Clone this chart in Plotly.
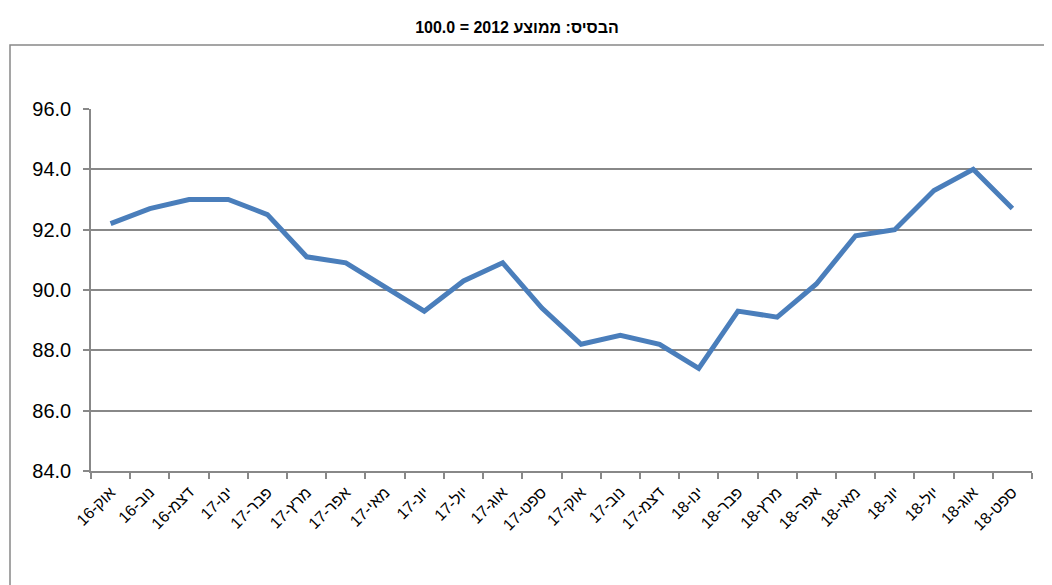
import plotly.graph_objects as go

months = ["אוק-16", "נוב-16", "דצמ-16", "ינו-17", "פבר-17", "מרץ-17", "אפר-17", "מאי-17",
          "יונ-17", "יול-17", "אוג-17", "ספט-17", "אוק-17", "נוב-17", "דצמ-17", "ינו-18",
          "פבר-18", "מרץ-18", "אפר-18", "מאי-18", "יונ-18", "יול-18", "אוג-18", "ספט-18"]
values = [92.2, 92.7, 93.0, 93.0, 92.5, 91.1, 90.9, 90.1,
          89.3, 90.3, 90.9, 89.4, 88.2, 88.5, 88.2, 87.4,
          89.3, 89.1, 90.2, 91.8, 92.0, 93.3, 94.0, 92.7]
y_ticks = [84, 86, 88, 90, 92, 94, 96]
title_text = "הבסיס: ממוצע 2012 = 100.0"

# page body has an 8px offset; compensate so the picture lines up
OFF = 8
L, T, PW, PH = 91 - OFF, 109 - OFF, 941, 362

fig = go.Figure()
fig.add_trace(go.Scatter(
    x=months, y=values, mode="lines",
    line=dict(color="#4A7EBB", width=5),
    hoverinfo="x+y",
))

fig.update_layout(
    width=1052, height=585,
    margin=dict(l=L, r=1052 - L - PW, t=T, b=585 - T - PH, autoexpand=False),
    paper_bgcolor="white", plot_bgcolor="white",
    showlegend=False,
    font=dict(family="Liberation Sans, Arial, sans-serif", color="black"),
    title=dict(text="<b>" + title_text + "</b>", x=(517 - OFF) / 1052, xref="container",
               xanchor="center",
               y=1 - (27 - OFF) / 585, yanchor="middle", font=dict(size=16, color="black")),
    xaxis=dict(
        type="category", range=[-0.5, len(months) - 0.5],
        showgrid=False, showline=True, linecolor="#888888", linewidth=1.5,
        ticks="outside", tickson="boundaries", ticklen=6, tickcolor="#888888", tickwidth=1.5,
        tickangle=-45, tickfont=dict(size=16), ticklabelstandoff=4,
        fixedrange=True, automargin=False,
    ),
    yaxis=dict(
        range=[84, 96], tickvals=y_ticks, tickformat=".1f",
        showgrid=True, gridcolor="#888888", gridwidth=1.5,
        showline=True, linecolor="#888888", linewidth=1.5,
        ticks="outside", ticklen=6, tickcolor="#888888", tickwidth=1.5,
        tickfont=dict(size=20), ticklabelstandoff=8, zeroline=False, fixedrange=True,
        automargin=False,
    ),
    shapes=[dict(type="rect", xref="paper", yref="paper",
                 x0=(10 - 91) / PW, x1=(1080 - 91) / PW,
                 y0=-(620 - 471) / PH, y1=1 + (109 - 45) / PH,
                 line=dict(color="#888888", width=1.5), fillcolor="rgba(0,0,0,0)",
                 layer="below")],
)

fig.write_html("out.html")
